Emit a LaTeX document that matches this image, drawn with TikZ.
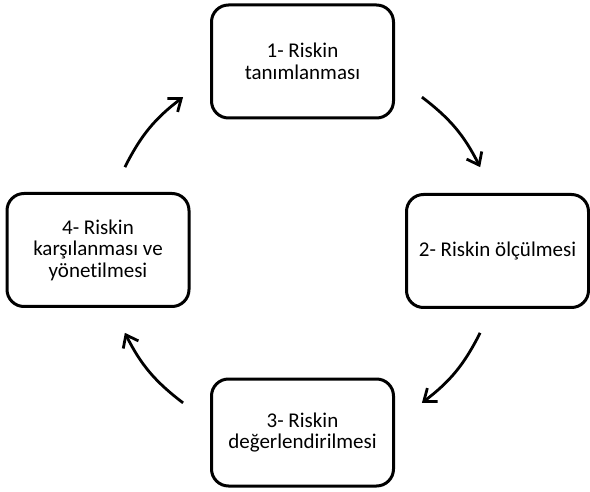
\documentclass[tikz,border=0pt]{standalone}
\usepackage{fontspec}
\setmainfont[Ligatures=NoCommon]{Carlito}
\usetikzlibrary{arrows.meta}

\begin{document}
\begin{tikzpicture}[
    x=1pt,y=1pt,
    stage/.style={draw,line width=3pt,rounded corners=17pt,
        minimum width=182pt,minimum height=113pt,align=center,
        font={\fontsize{21}{21.5}\selectfont}},
    cycle/.style={line width=2.8pt,
        -{Straight Barb[length=11pt,width=17pt,line width=2.8pt]}},
    ]
    \useasboundingbox (0,0) rectangle (590,491);
    % Stages of the cycle
    \node[stage] (tanim) at (302.5,429.5) {1- Riskin\\tanımlanması};
    \node[stage] (olcum) at (497.5,240) {2- Riskin ölçülmesi};
    \node[stage,minimum height=107pt] (deger) at (302.5,58.5)
        {3- Riskin\\değerlendirilmesi};
    \node[stage] (karsi) at (98,241)
        {4- Riskin\\karşılanması ve\\yönetilmesi};
    % Centre of the circle carrying the arrows
    \coordinate (c) at (302.5,241);
    \coordinate (t1) at ([shift={(52:194)}]c);
    \coordinate (o1) at ([shift={(25:196)}]c);
    \coordinate (o2) at ([shift={(-25:196)}]c);
    \coordinate (d2) at ([shift={(-52:194)}]c);
    \coordinate (d3) at ([shift={(-128:194)}]c);
    \coordinate (k3) at ([shift={(-155:196)}]c);
    \coordinate (k4) at ([shift={(155:196)}]c);
    \coordinate (t4) at ([shift={(128:194)}]c);
    % Arrows, clockwise
    \draw[cycle] (t1) to[bend left=13] (o1);
    \draw[cycle] (o2) to[bend left=13] (d2);
    \draw[cycle] (d3) to[bend left=13] (k3);
    \draw[cycle] (k4) to[bend left=13] (t4);
\end{tikzpicture}
\end{document}
